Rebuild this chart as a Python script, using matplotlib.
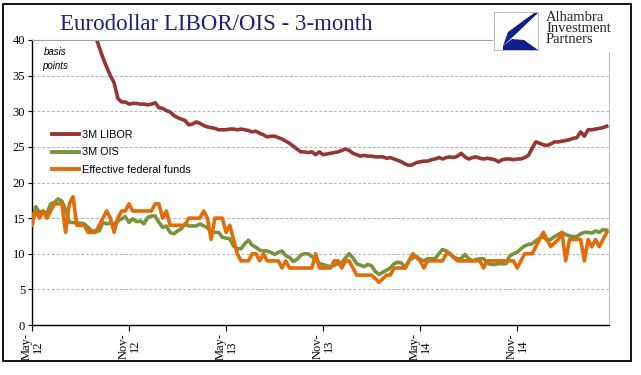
import numpy as np
import matplotlib
matplotlib.use("Agg")
import matplotlib.pyplot as plt
from matplotlib.patches import Rectangle, Polygon
from matplotlib.lines import Line2D

# weekly observations, May 2012 .. Apr 2015 (basis points)
libor = [
    46.7, 46.7, 46.8, 46.8, 46.8, 46.8, 46.7, 46.4, 46.0, 45.5, 45.0, 44.4, 43.9, 43.4, 43.0, 42.5, 41.8,
    40.5, 39.0, 37.5, 36.2, 35.0, 34.0, 31.8, 31.3, 31.3,
    31.0, 31.1, 31.1, 31.0, 31.0, 30.9, 31.0, 31.2, 30.5, 30.4, 30.1, 29.9, 29.4, 29.1, 28.9, 28.7,
    28.1, 28.2, 28.5, 28.3, 28.0, 27.8, 27.7, 27.6, 27.4, 27.4, 27.4, 27.5,
    27.5, 27.4, 27.5, 27.4, 27.3, 27.1, 27.2, 26.9, 26.7, 26.4, 26.5, 26.5,
    26.3, 26.1, 25.8, 25.5, 25.1, 24.7, 24.3, 24.3, 24.2, 24.3, 23.9, 24.3,
    23.9, 24.0, 24.1, 24.2, 24.3, 24.5, 24.7, 24.5, 24.1, 23.9, 23.7, 23.8,
    23.7, 23.7, 23.6, 23.6, 23.6, 23.4, 23.5, 23.3, 23.1, 22.9, 22.6, 22.4,
    22.5, 22.8, 22.9, 23.0, 23.0, 23.2, 23.3, 23.5, 23.3, 23.5, 23.6, 23.5,
    23.7, 24.1, 23.6, 23.3, 23.5, 23.6, 23.4, 23.3, 23.4, 23.3, 23.2, 22.9,
    23.2, 23.3, 23.3, 23.2, 23.3, 23.3, 23.5, 23.8, 24.8, 25.7, 25.5, 25.3,
    25.2, 25.4, 25.7, 25.7, 25.8, 25.9, 26.0, 26.2, 26.3, 27.1, 26.5, 27.4,
    27.4, 27.5, 27.6, 27.7, 27.9,
]

ois = [
    14.6, 16.6, 15.8, 16.0, 15.6, 17.0, 17.2, 17.7, 17.4, 16.2, 14.4, 14.4, 14.3, 14.3, 14.2, 13.7,
    13.2, 13.2, 13.2, 14.4, 14.2, 14.3, 14.2, 14.6, 14.9, 15.2, 14.4, 14.9, 14.5, 14.6, 14.2, 15.1,
    15.3, 15.3, 14.4, 13.7, 13.9, 13.0, 12.8, 13.2, 13.5, 14.2, 13.9, 13.9, 13.9, 14.2, 13.9, 13.7,
    13.0, 13.0, 13.0, 12.3, 12.2, 12.1, 11.1, 10.7, 10.7, 11.4, 11.9, 11.2, 10.9, 10.5, 10.4, 10.4,
    10.2, 9.9, 10.2, 10.4, 9.7, 9.5, 8.9, 9.2, 9.8, 10.0, 10.0, 9.6, 9.3, 8.6,
    8.5, 8.3, 8.2, 8.4, 8.6, 8.8, 9.4, 10.0, 9.4, 8.6, 8.4, 8.2, 8.5, 8.3, 7.5, 7.1,
    7.4, 7.7, 8.0, 8.6, 8.8, 8.7, 8.0, 9.0, 9.4, 9.6, 9.2, 9.0, 9.3, 9.3, 9.3, 10.0,
    10.6, 10.4, 10.0, 9.5, 9.3, 9.3, 9.9, 9.3, 9.0, 9.2, 9.3, 9.3, 8.7, 8.5, 8.5, 8.6,
    8.6, 8.6, 9.7, 10.0, 10.2, 10.7, 11.1, 11.3, 11.4, 11.8, 12.2, 12.4, 11.9, 12.0, 12.4, 12.7,
    13.0, 12.7, 12.5, 12.4, 12.4, 12.8, 13.0, 13.0, 12.9, 13.2, 13.0, 13.4, 13.3,
]

effr = [
    14, 16, 15, 16, 15, 16, 17, 17, 17, 13, 17, 18, 14, 14, 14, 13, 13, 13, 14, 15,
    16, 15, 13, 15, 16, 16, 17, 16, 16, 16, 16, 16, 16, 17, 17, 15, 16, 14, 14, 14,
    14, 14, 15, 15, 15, 15, 16, 15, 12, 15, 15, 15, 13, 14, 12, 10, 9, 9, 9, 10,
    10, 9, 10, 9, 9, 9, 9, 8, 9, 8, 8, 8, 8, 8, 8, 8, 10, 8,
    8, 8, 8, 9, 9, 8, 9, 9, 8, 7, 7, 7, 7, 7, 6.5, 6, 6.5, 7, 7, 8,
    8, 8, 8, 9, 10, 9.5, 9, 8, 9, 9, 9, 9, 9, 10, 10, 9.5, 9, 9, 9, 9,
    9, 9, 9, 8, 9, 9, 9, 9, 9, 9, 9, 9, 8, 9, 10, 10, 10, 11, 12, 13,
    12, 11, 11.5, 12, 13, 9, 12, 12, 12, 12, 9, 12, 11, 12, 11, 12, 13,
]

tick_weeks = [0, 26, 52, 78, 104, 130]
tick_labels = ["May-\n12", "Nov-\n12", "May-\n13", "Nov-\n13", "May-\n14", "Nov-\n14"]
yticks = [0, 5, 10, 15, 20, 25, 30, 35, 40]

weeks = np.arange(len(libor))

W, H = 641, 375
fig = plt.figure(figsize=(W / 100, H / 100), dpi=100)
ax = fig.add_axes([32 / W, 1 - 325 / H, (609 - 32) / W, (325 - 40) / H])

ax.plot(weeks[:len(ois)], ois, color="#77933C", lw=2.6, label="3M OIS", zorder=3)
ax.plot(weeks[:len(effr)], effr, color="#E36C09", lw=2.6, label="Effective federal funds", zorder=4)
ax.plot(weeks, libor, color="#943634", lw=2.6, label="3M LIBOR", zorder=5)

ax.set_xlim(0, 154.6)
ax.set_ylim(0, 40)
ax.set_yticks(yticks)
ax.set_xticks(tick_weeks)
ax.set_xticklabels(tick_labels, rotation=90, fontsize=9, family="Liberation Serif",
                   linespacing=0.9, va="top", ha="center")
ax.set_yticklabels([str(v) for v in yticks], fontsize=9, family="Liberation Serif")
ax.tick_params(axis="y", length=3, width=0.8, pad=2)
ax.tick_params(axis="x", length=4, width=0.8, pad=2)
for v in yticks[1:-1]:
    ax.axhline(v, color="#B0B0B0", lw=0.7, ls=(0, (3, 2)), zorder=1)

ax.spines["top"].set_visible(False)
ax.spines["right"].set_color("#BFBFBF")
ax.spines["right"].set_bounds(0, 38.3)
ax.spines["left"].set_linewidth(1.0)
ax.spines["bottom"].set_linewidth(1.0)

handles = [
    Line2D([], [], color="#943634", lw=2.8),
    Line2D([], [], color="#77933C", lw=2.8),
    Line2D([], [], color="#E36C09", lw=2.8),
]
ax.legend(handles, ["3M LIBOR", "3M OIS", "Effective federal funds"],
          loc="upper left", bbox_to_anchor=(0.027, 0.70), frameon=False,
          prop={"family": "Liberation Sans", "size": 7.8},
          handlelength=2.5, handletextpad=0.3, labelspacing=0.7, borderaxespad=0)

ax.text(0.04, 0.975, "basis\npoints", transform=ax.transAxes, ha="center", va="top",
        fontsize=7, style="italic", family="Liberation Sans", linespacing=1.5)

# title with underline
fig.text(60 / W, 1 - 30 / H, "Eurodollar LIBOR/OIS - 3-month", fontsize=16.5,
         family="Liberation Serif", color="#1F1F7A", va="baseline")
fig.add_artist(Line2D([32 / W, 492 / W], [1 - 40 / H, 1 - 40 / H], color="#A0A0A0", lw=0.8))

# logo
lx0, ly0, lw_, lh_ = 494, 12, 44, 38
fig.add_artist(Rectangle((lx0 / W, 1 - (ly0 + lh_) / H), lw_ / W, lh_ / H,
                         transform=fig.transFigure, facecolor="white",
                         edgecolor="#B0B0B0", lw=0.6))

def lp(px, py):
    return ((lx0 + px) / W, 1 - (ly0 + py) / H)

fig.add_artist(Polygon([lp(40, 1), lp(44, 1), lp(24, 20), lp(9, 34), lp(14, 20)],
                       closed=True, transform=fig.transFigure, facecolor="#0F1F8C", edgecolor="none"))
fig.add_artist(Polygon([lp(9, 34), lp(18, 27), lp(30, 28), lp(44, 38), lp(9, 38)],
                       closed=True, transform=fig.transFigure, facecolor="#0F1F8C", edgecolor="none"))
fig.text(546 / W, 1 - 11 / H, "Alhambra\nInvestment\nPartners", fontsize=10.5,
         family="Liberation Serif", color="#222222", va="top", ha="left", linespacing=0.82)

# outer frame
fig.add_artist(Rectangle((3 / W, 1 - 361 / H), 628 / W, 357 / H, transform=fig.transFigure,
                         fill=False, edgecolor="black", lw=1.3))

fig.savefig("out.png", dpi=100)
